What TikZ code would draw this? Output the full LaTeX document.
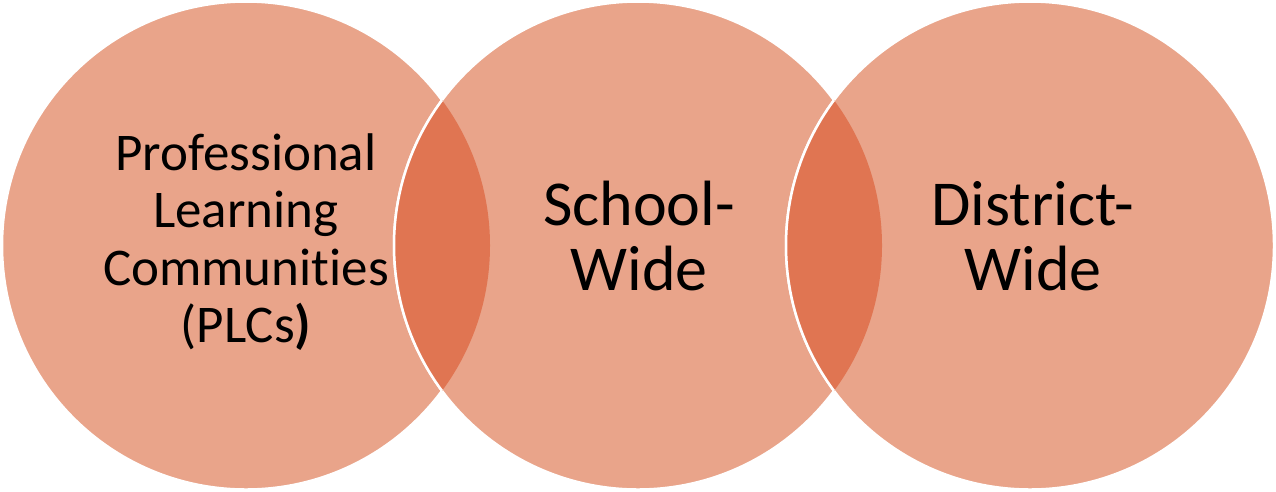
\documentclass[tikz,border=0pt]{standalone}
\usepackage{fontspec}
\setmainfont[Ligatures=NoCommon]{Carlito}
\usepackage{tikz}
\definecolor{ringF}{HTML}{E9A48A}
\definecolor{ringD}{HTML}{E07552}

\begin{document}
\begin{tikzpicture}[x=1pt,y=-1pt,
  ring/.style={circle, fill=ringF, draw=white, line width=2.5pt, inner sep=0pt, minimum size=488pt},
  lens/.style={fill=ringD, draw=white, line width=2.5pt},
  lab/.style={font=\fontsize{64}{65}\selectfont, align=center, inner sep=0pt},
  labsm/.style={font=\fontsize{53}{57.5}\selectfont, align=center, inner sep=0pt},
  ]
\useasboundingbox (0,0) rectangle (1276,491);
% ---- the three rings
\node[ring] (plc)      at (246,245.5) {};
\node[ring] (school)   at (638,245.5) {};
\node[ring] (district) at (1030,245.5) {};
% ---- where two rings overlap
\begin{scope}
  \clip (plc.center) circle (244);
  \path[lens] (school.center) circle (244);
\end{scope}
\begin{scope}
  \clip (school.center) circle (244);
  \path[lens] (district.center) circle (244);
\end{scope}
% ---- the labels
\node[labsm] (plcT)      at (246,242) {Professional\\Learning\\Communities\\(PLCs\textbf{)}};
\node[lab]   (schoolT)   at (639,236) {School-\\Wide};
\node[lab]   (districtT) at (1033,236) {District-\\Wide};
\end{tikzpicture}
\end{document}
